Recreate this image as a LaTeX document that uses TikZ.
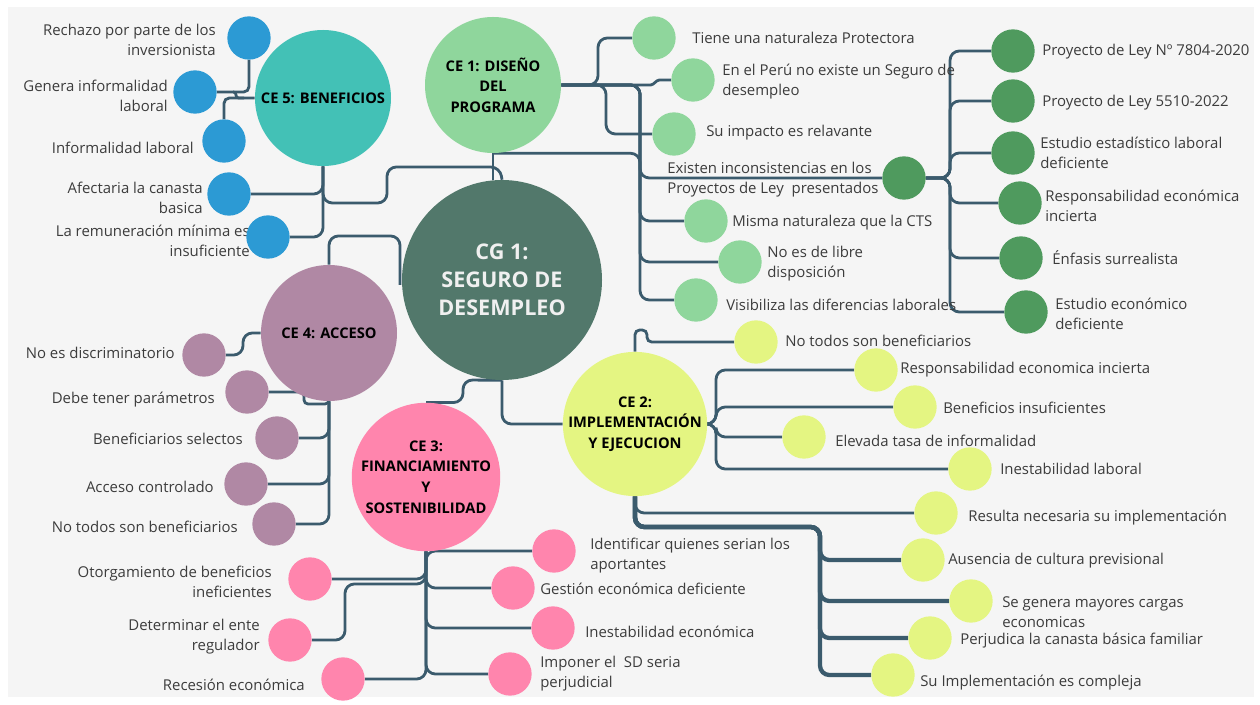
\documentclass[tikz,border=0pt]{standalone}
\usepackage{fontspec}
\setmainfont{Open Sans}
\usetikzlibrary{backgrounds}

\definecolor{paper}{HTML}{F5F5F5}
\definecolor{linkc}{HTML}{3B5B6D}
\definecolor{textc}{HTML}{3C3C3C}
\definecolor{cgc}{HTML}{52786B}
\definecolor{ceone}{HTML}{8FD69C}
\definecolor{dkgreen}{HTML}{4F9A5E}
\definecolor{cefive}{HTML}{43C1B6}
\definecolor{blueleaf}{HTML}{2C9AD4}
\definecolor{cefour}{HTML}{B088A4}
\definecolor{cethree}{HTML}{FF85AD}
\definecolor{cetwo}{HTML}{E4F582}

\begin{document}
\begin{tikzpicture}[x=0.75pt,y=-0.75pt,
    link/.style={draw=linkc, line width=2.1pt, rounded corners=7pt},
    hub/.style={circle, inner sep=0pt, align=center, text=black,
        font=\bfseries\fontsize{11}{15.5}\selectfont},
    leaf/.style={circle, inner sep=0pt, minimum size=32.5pt},
    txtr/.style={anchor=west, inner sep=0pt, align=left, text=textc,
        font=\fontsize{11.2}{15}\selectfont},
    txtl/.style={anchor=east, inner sep=0pt, align=right, text=textc,
        font=\fontsize{11.2}{15}\selectfont}]

    \useasboundingbox (0,0) rectangle (1260,705);

    % Central topic
    \node[circle, fill=cgc, minimum size=150pt, inner sep=0pt, align=center, text=white!94!black,
        font=\bfseries\fontsize{16.2}{21}\selectfont] (cg) at (502,280) {CG 1:\\SEGURO DE\\DESEMPLEO};

    % Categories
    \node[hub, fill=ceone, minimum size=102pt] (ce1) at (493,85) {CE 1: DISEÑO\\DEL\\PROGRAMA};
    \node[hub, fill=cetwo, minimum size=108pt] (ce2) at (635,424) {CE 2:\\IMPLEMENTACIÓN\\Y EJECUCION};
    \node[hub, fill=cethree, minimum size=108pt] (ce3) at (426,477) {CE 3:\\FINANCIAMIENTO\\Y\\SOSTENIBILIDAD};
    \node[hub, fill=cefour, minimum size=102pt] (ce4) at (329,333) {CE 4: ACCESO};
    \node[hub, fill=cefive, minimum size=102pt] (ce5) at (323,98) {CE 5: BENEFICIOS};

    % CE 1 leaves
    \node[leaf, fill=ceone] (l1a) at (654,38) {};
    \node[txtr] (t1a) at (692,38) {Tiene una naturaleza Protectora};
    \node[leaf, fill=ceone] (l1b) at (693,80) {};
    \node[txtr] (t1b) at (722,82) {En el Perú no existe un Seguro de\\desempleo};
    \node[leaf, fill=ceone] (l1c) at (674,134) {};
    \node[txtr] (t1c) at (706,133) {Su impacto es relavante};
    \node[leaf, fill=dkgreen] (l1d) at (904,178) {};
    \node[txtr] (t1d) at (667,180) {Existen inconsistencias en los\\Proyectos de Ley~ presentados};
    \node[leaf, fill=ceone] (l1e) at (706,221) {};
    \node[txtr] (t1e) at (732,223) {Misma naturaleza que la CTS};
    \node[leaf, fill=ceone] (l1f) at (740,262) {};
    \node[txtr] (t1f) at (767,264) {No es de libre\\disposición};
    \node[leaf, fill=ceone] (l1g) at (696,300) {};
    \node[txtr] (t1g) at (726,305) {Visibiliza las diferencias laborales};

    % Proyectos de Ley
    \node[leaf, fill=dkgreen] (m1) at (1013,51) {};
    \node[txtr] (u1) at (1042,52) {Proyecto de Ley Nº 7804-2020};
    \node[leaf, fill=dkgreen] (m2) at (1013,101) {};
    \node[txtr] (u2) at (1042,103) {Proyecto de Ley 5510-2022};
    \node[leaf, fill=dkgreen] (m3) at (1013,153) {};
    \node[txtr] (u3) at (1040,153) {Estudio estadístico laboral\\deficiente};
    \node[leaf, fill=dkgreen] (m4) at (1020,203) {};
    \node[txtr] (u4) at (1045,206) {Responsabilidad económica\\incierta};
    \node[leaf, fill=dkgreen] (m5) at (1021,258) {};
    \node[txtr] (u5) at (1052,258) {Énfasis surrealista};
    \node[leaf, fill=dkgreen] (m6) at (1026,312) {};
    \node[txtr] (u6) at (1055,314) {Estudio económico\\deficiente};

    % CE 5 leaves
    \node[leaf, fill=blueleaf] (l5a) at (249,38) {};
    \node[txtl] (t5a) at (216,40) {Rechazo por parte de los\\inversionista};
    \node[leaf, fill=blueleaf] (l5b) at (195,92) {};
    \node[txtl] (t5b) at (168,96) {Genera informalidad\\laboral};
    \node[leaf, fill=blueleaf] (l5c) at (224,141) {};
    \node[txtl] (t5c) at (194,148) {Informalidad laboral};
    \node[leaf, fill=blueleaf] (l5d) at (229,194) {};
    \node[txtl] (t5d) at (203,198) {Afectaria la canasta\\basica};
    \node[txtl] (t5e) at (250,241) {La remuneración mínima es\\insuficiente};
    \node[leaf, fill=blueleaf] (l5e) at (268,237) {};

    % CE 4 leaves
    \node[leaf, fill=cefour] (l4a) at (204,355) {};
    \node[txtl] (t4a) at (175,353) {No es discriminatorio};
    \node[leaf, fill=cefour] (l4b) at (247,392) {};
    \node[txtl] (t4b) at (215,400) {Debe tener parámetros};
    \node[leaf, fill=cefour] (l4c) at (277,438) {};
    \node[txtl] (t4c) at (243,439) {Beneficiarios selectos};
    \node[leaf, fill=cefour] (l4d) at (246,484) {};
    \node[txtl] (t4d) at (214,487) {Acceso controlado};
    \node[leaf, fill=cefour] (l4e) at (274,524) {};
    \node[txtl] (t4e) at (238,527) {No todos son beneficiarios};

    % CE 3 leaves
    \node[leaf, fill=cethree] (l3a) at (554,551) {};
    \node[txtr] (t3a) at (590,556) {Identificar quienes serian los\\aportantes};
    \node[leaf, fill=cethree] (l3b) at (513,588) {};
    \node[txtr] (t3b) at (540,589) {Gestión económica deficiente};
    \node[leaf, fill=cethree] (l3c) at (553,628) {};
    \node[txtr] (t3c) at (585,632) {Inestabilidad económica};
    \node[leaf, fill=cethree] (l3d) at (510,674) {};
    \node[txtr] (t3d) at (540,674) {Imponer el~ SD seria\\perjudicial};
    \node[leaf, fill=cethree] (l3e) at (310,579) {};
    \node[txtl] (t3e) at (272,582) {Otorgamiento de beneficios\\ineficientes};
    \node[leaf, fill=cethree] (l3f) at (290,640) {};
    \node[txtl] (t3f) at (260,637) {Determinar el ente\\regulador};
    \node[leaf, fill=cethree] (l3g) at (343,679) {};
    \node[txtl] (t3g) at (305,685) {Recesión económica};

    % CE 2 leaves
    \node[leaf, fill=cetwo] (l2a) at (756,342) {};
    \node[txtr] (t2a) at (785,341) {No todos son beneficiarios};
    \node[leaf, fill=cetwo] (l2b) at (876,370) {};
    \node[txtr] (t2b) at (900,370) {Responsabilidad economica incierta};
    \node[leaf, fill=cetwo] (l2c) at (915,407) {};
    \node[txtr] (t2c) at (943,408) {Beneficios insuficientes};
    \node[leaf, fill=cetwo] (l2d) at (804,437) {};
    \node[txtr] (t2d) at (835,441) {Elevada tasa de informalidad};
    \node[leaf, fill=cetwo] (l2e) at (970,469) {};
    \node[txtr] (t2e) at (1000,469) {Inestabilidad laboral};
    \node[leaf, fill=cetwo] (l2f) at (936,513) {};
    \node[txtr] (t2f) at (968,518) {Resulta necesaria su implementación};
    \node[leaf, fill=cetwo] (l2g) at (923,560) {};
    \node[txtr] (t2g) at (948,561) {Ausencia de cultura previsional};
    \node[leaf, fill=cetwo] (l2h) at (971,601) {};
    \node[txtr] (t2h) at (1002,612) {Se genera mayores cargas\\economicas};
    \node[leaf, fill=cetwo] (l2i) at (930,638) {};
    \node[txtr] (t2i) at (960,641) {Perjudica la canasta básica familiar};
    \node[leaf, fill=cetwo] (l2j) at (893,675) {};
    \node[txtr] (t2j) at (920,683) {Su Implementación es compleja};

    \begin{pgfonlayer}{background}
    % Paper
    \fill[white] (0,0) rectangle (1260,705);
    \fill[paper] (8,7) rectangle (1254,697);

    % CE 1 branches
    \draw[link] (ce1.east) -- (598,85) |- (l1a);
    \draw[link, rounded corners=1pt] (ce1.east) -- (652,85) -- (658,80) -- (l1b);
    \draw[link] (ce1.east) -- (606,85) |- (l1c);
    \foreach \leaf in {l1d,l1e,l1f,l1g}
        \draw[link] (ce1.east) -- (640,85) |- (\leaf);
    \draw[link] (ce1.south) -- (cg.north -| ce1.south);
    \draw[link] (ce1.south) -| (640,190);

    % Proyectos de Ley
    \foreach \leaf in {m1,m2,m3,m4,m5,m6}
        \draw[link] (l1d) -- (950,178) |- (\leaf);

    % CE 5 branches
    \draw[link] (ce5.south) |- (387,203) |- (500,167) -- (cg.north);
    \draw[link, rounded corners=2pt] (ce5.west) -- (236,98) |- (l5b);
    \draw[link, rounded corners=4pt] (l5a) |- (233,92);
    \draw[link, rounded corners=4pt] (l5c) |- (244,98);
    \draw[link] (ce5.south) |- (l5d);
    \draw[link] (ce5.south) |- (l5e);

    % CE 4 branches
    \draw[link] (ce4.north) |- (400,236) -- (400,285);
    \draw[link] (ce4.west) -- (243,333) |- (l4a);
    \draw[link, rounded corners=3pt] (ce4.south) -- (329,404) -- (304,404) |- (l4b);
    \foreach \leaf in {l4c,l4d,l4e}
        \draw[link] (ce4.south) |- (\leaf);

    % CE 3 branches
    \draw[link] (ce3.north) -| (463,380) -- (cg.south);
    \foreach \leaf in {l3a,l3b,l3c,l3d,l3e,l3g}
        \draw[link] (ce3.south) |- (\leaf);
    \draw[link] (ce3.south) |- (345,584) |- (l3f);

    % CE 2 branches
    \draw[link] (cg.south) |- (ce2.west);
    \draw[link, rounded corners=3.5pt] (ce2.north) |- (647,330) |- (l2a);
    \foreach \leaf in {l2b,l2c,l2d,l2e}
        \draw[link] (ce2.east) -- (716,424) |- (\leaf);
    \draw[link] (ce2.south) |- (l2f);
    \foreach \leaf in {l2g,l2h,l2i,l2j}
        \draw[link, line width=3.2pt] (ce2.south) |- (820,527) |- (\leaf);
    \end{pgfonlayer}
\end{tikzpicture}
\end{document}
